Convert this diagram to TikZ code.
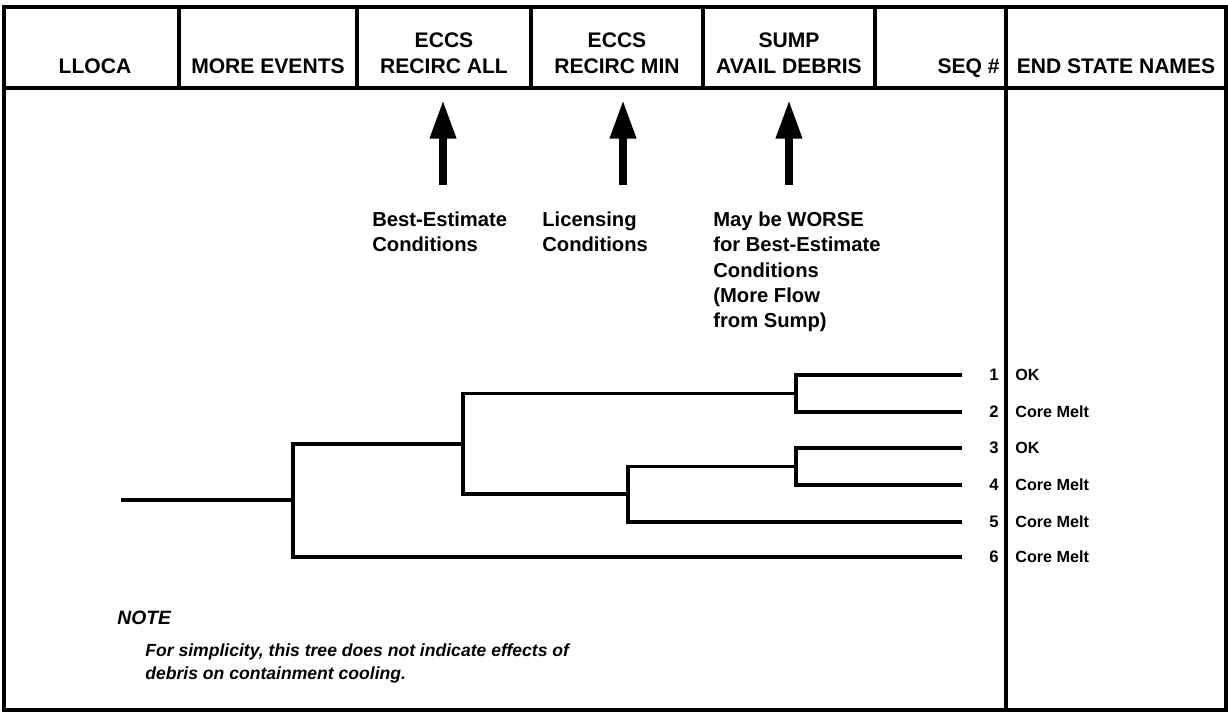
\documentclass[tikz,border=0pt]{standalone}
\usepackage{fontspec}
\setmainfont{Liberation Sans}
\usetikzlibrary{arrows.meta}
\begin{document}
\begin{tikzpicture}[
	x=0.02cm, y=-0.02cm,
	frame/.style={
		draw=black,
		line width=1.9pt
	},
	head/.style={
		font=\bfseries\fontsize{12}{15.3}\selectfont,
		align=center,
		anchor=base,
		inner sep=0pt
	},
	remark/.style={
		font=\bfseries\fontsize{11.5}{14.5}\selectfont,
		align=left,
		anchor=base west,
		inner sep=0pt
	},
	seqno/.style={
		font=\bfseries\fontsize{9.5}{11}\selectfont,
		anchor=east,
		inner sep=0pt
	},
	endname/.style={
		font=\bfseries\fontsize{9.2}{11}\selectfont,
		anchor=west,
		inner sep=0pt
	},
	branch/.style={
		draw=black,
		line width=2pt
	},
	bigarrow/.style={
		draw=black,
		line width=4.5pt,
		-{Triangle[width=14pt,length=22pt]}
	},
	note/.style={
		font=\bfseries\itshape\fontsize{10}{13.6}\selectfont,
		align=left,
		anchor=base west,
		inner sep=0pt
	},
]

\useasboundingbox (0,0) rectangle (1228,715);

% frame and header row
\draw[frame] (4,7) rectangle (1226,710);
\draw[frame] (4,88) -- (1226,88);
\foreach \x in {179, 357, 531, 703, 875}
	\draw[frame] (\x,7) -- (\x,88);
\draw[frame] (1006,7) -- (1006,710);

\node[head] (hlloca) at (95,74) {LLOCA};
\node[head] (hmore) at (268,74) {MORE EVENTS};
\node[head] (hall) at (444,74) {ECCS\\RECIRC ALL};
\node[head] (hmin) at (617,74) {ECCS\\RECIRC MIN};
\node[head] (hsump) at (789,74) {SUMP\\AVAIL DEBRIS};
\node[head, anchor=base east] (hseq) at (1000,74) {SEQ \#};
\node[head] (hend) at (1116,74) {END STATE NAMES};

% remarks under the recirculation columns
\node[remark] (rall) at (372,251.5) {Best-Estimate\\Conditions};
\node[remark] (rmin) at (542,251.5) {Licensing\\Conditions};
\node[remark] (rsump) at (713,328) {May be WORSE\\for Best-Estimate\\Conditions\\(More Flow\\from Sump)};

\foreach \n/\x in {A/443, B/623, C/789} {
	\coordinate (tail\n) at (\x,185);
	\coordinate (tip\n) at (\x,100);
	\draw[bigarrow] (tail\n) -- (tip\n);
}

% sequences
\foreach \n/\y/\s in {1/375/OK, 2/412/Core Melt, 3/448/OK, 4/485/Core Melt, 5/522/Core Melt, 6/557/Core Melt} {
	\coordinate (e\n) at (962,\y);
	\node[seqno] (seq\n) at (999,\y) {\n};
	\node[endname] (end\n) at (1015,\y) {\s};
}

% tree
\coordinate (root) at (121,500);
\coordinate (s1) at (293,500);
\coordinate (s2) at (463,444);
\coordinate (s3) at (628,494);
\coordinate (s4a) at (796,393.5);
\coordinate (s4b) at (796,466.5);

\draw[branch] (root) -- (s1);
\draw[branch] (s2) -| (s1) |- (e6);
\draw[branch] (s4a) -| (s2) |- (s3);
\draw[branch] (s4b) -| (s3) |- (e5);
\draw[branch] (e1) -| (s4a) |- (e2);
\draw[branch] (e3) -| (s4b) |- (e4);

% note
\node[note, font=\bfseries\itshape\fontsize{11}{13}\selectfont] (notehead) at (117,625) {NOTE};
\node[note] (notetext) at (145,680) {For simplicity, this tree does not indicate effects of\\debris on containment cooling.};

\end{tikzpicture}
\end{document}
